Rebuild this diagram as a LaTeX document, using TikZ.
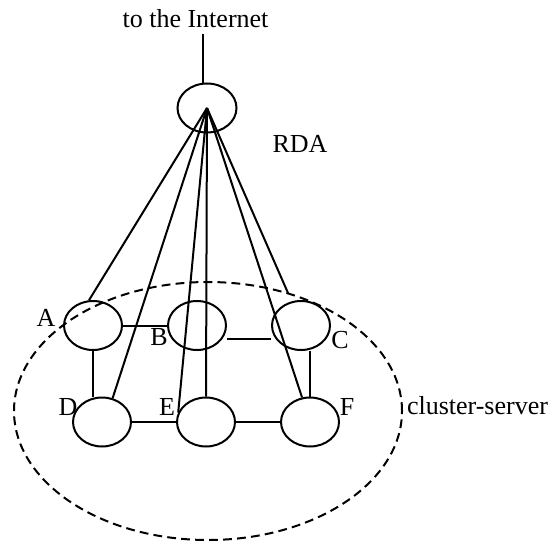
\documentclass[tikz,border=0pt]{standalone}
\usepackage{fontspec}
\setmainfont{Liberation Serif}
\usepackage{tikz}
\usetikzlibrary{shapes.geometric,calc}

\begin{document}
\begin{tikzpicture}[
			x = 0.5pt, y = -0.5pt,
			line width = 1pt,
			every node/.style = {font=\fontsize{13}{15}\selectfont},
			host/.style = {draw, ellipse, inner sep=0pt, minimum width=29pt, minimum height=24.5pt},
			lbl/.style = {inner sep=0pt, anchor=base},
			cloud/.style = {draw, ellipse, dash pattern=on 4.4pt off 2.6pt, inner sep=0pt,
				minimum width=194pt, minimum height=129pt}
		]
		\useasboundingbox (0,0) rectangle (549,545);

		\node[cloud] (cluster) at (208,411) {};

		\node[host, minimum width=29.5pt] (rda) at (207,108) {};
		\node[host] (a) at (93,325.5) {};
		\node[host] (b) at (197,325.5) {};
		\node[host] (c) at (301,325.5) {};
		\node[host] (d) at (102,422) {};
		\node[host] (e) at (206,422) {};
		\node[host] (f) at (310,422) {};

		\node[lbl, inner ysep=2.5pt] (inet) at (195.5,28) {to the Internet};
		\node[lbl] (lRDA) at (300,152) {RDA};
		\node[lbl] (lA) at (46,326) {A};
		\node[lbl] (lB) at (159,345) {B};
		\node[lbl] (lC) at (340,348) {C};
		\node[lbl] (lD) at (68,415) {D};
		\node[lbl] (lE) at (167,415) {E};
		\node[lbl] (lF) at (347,415) {F};
		\node[lbl, anchor=base west] (lCluster) at (406,414) {cluster-server};

		\coordinate (cTop) at (288,293);

		\draw (rda.100) -- (rda.100 |- inet.south);
		\foreach \t in {a.99, d.66, e.161, e.north, f.108, cTop}
			\draw (rda.center) -- (\t);

		\draw (a.east) -- (b.west);
		\draw ([yshift=-6.75pt]b.east) -- ([yshift=-6.75pt]c.west);
		\draw (a.south) -- (a.south |- d.north);
		\draw (f.north) -- (f.north |- c.south);
		\draw (d.east) -- (e.west);
		\draw (e.east) -- (f.west);

		\end{tikzpicture}
\end{document}
